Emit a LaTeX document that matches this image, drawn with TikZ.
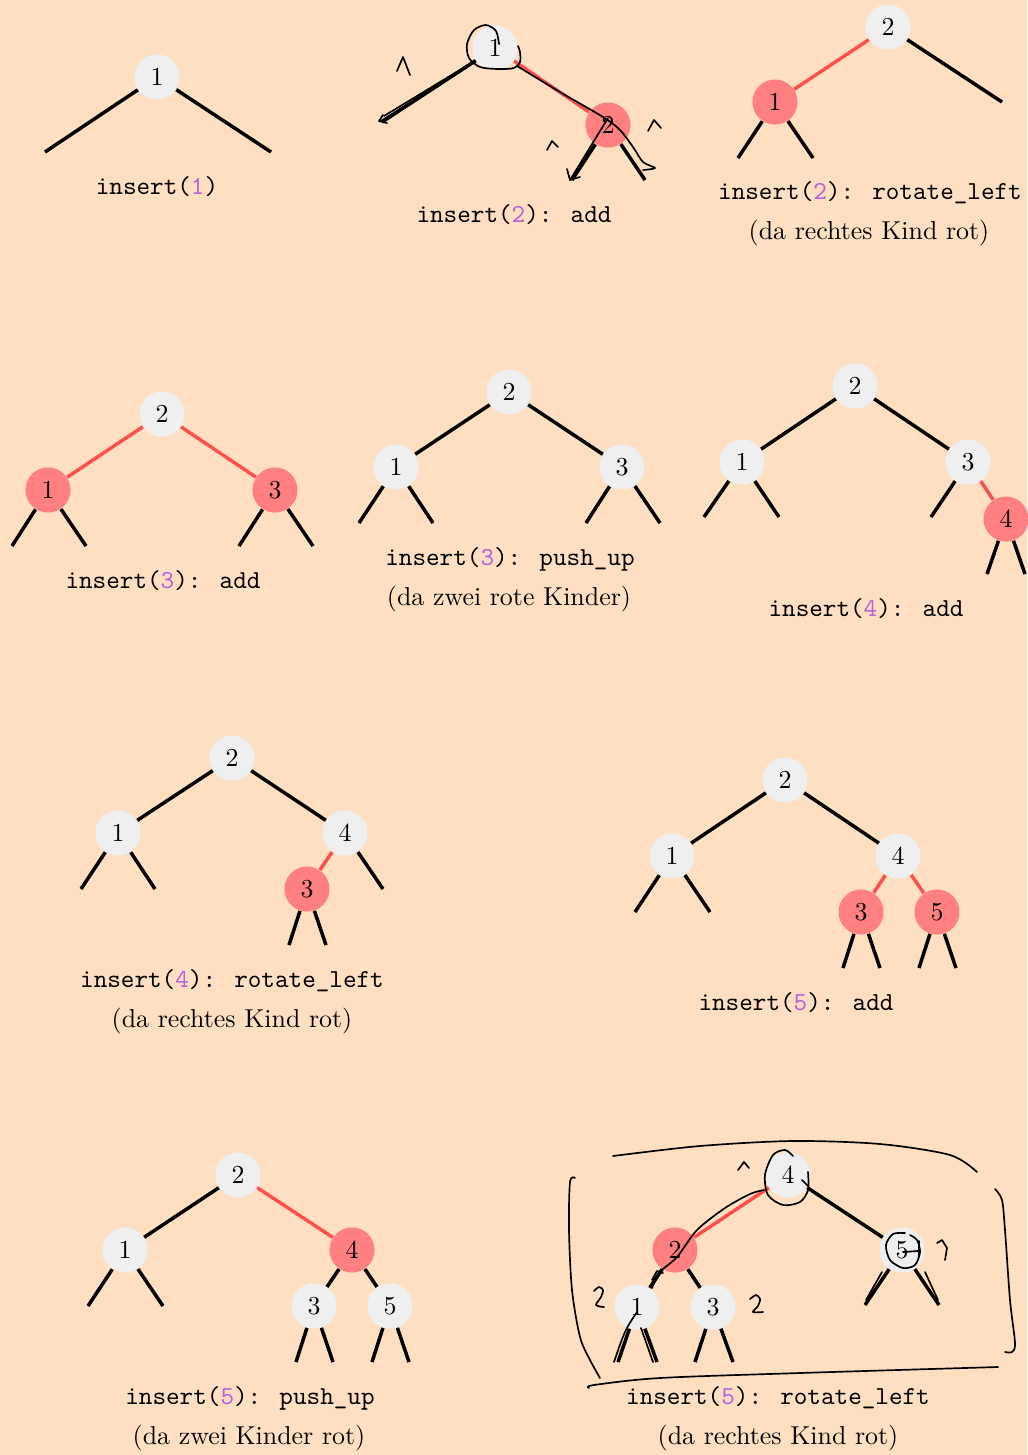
\documentclass[tikz,border=0pt]{standalone}
\usetikzlibrary{arrows.meta}
\definecolor{bg}{HTML}{FFDFC2}
\definecolor{nodegray}{HTML}{EFEFEF}
\definecolor{nodered}{HTML}{FF8080}
\definecolor{edgered}{HTML}{FF4D4D}
\definecolor{purp}{HTML}{B65FD8}
\tikzset{
 bn/.style={circle, fill=nodegray, minimum size=17.4pt, inner sep=0pt},
 rn/.style={bn, fill=nodered},
 edge/.style={line width=1.35pt, black},
 redge/.style={line width=1.3pt, edgered},
 lbl/.style={inner sep=0pt, font=\ttfamily},
 note/.style={inner sep=0pt},
 scrib/.style={line width=0.65pt, black, line cap=round, line join=round},
}
\newcommand{\ins}[2]{insert(\textcolor{purp}{#1})#2}
\begin{document}
\begin{tikzpicture}[x=0.3861pt, y=-0.3861pt]
\fill[bg] (0,0) rectangle (1027,1455);
\useasboundingbox (0,0) rectangle (1027,1455);

% ---------- Tree 1
\node[bn] (a1) at (157,77) {1};
\coordinate (a1l) at (45,152); \coordinate (a1r) at (271,152);
\draw[edge] (a1) -- (a1l); \draw[edge] (a1) -- (a1r);
\node[lbl] (la) at (157,187) {\ins{1}{}};

% ---------- Tree 2
\node[bn] (b1) at (495,48) {1};
\node[rn] (b2) at (608,125) {2};
\coordinate (b1l) at (382,122);
\coordinate (b2l) at (572,180); \coordinate (b2r) at (645,180);
\draw[edge] (b1) -- (b1l);
\draw[redge] (b1) -- (b2);
\draw[edge] (b2) -- (b2l); \draw[edge] (b2) -- (b2r);
\node[lbl] (lb) at (514,215) {\ins{2}{: add}};
% scribbles
\draw[scrib] plot[smooth] coordinates {(499,44) (496,31) (486,25) (474,30) (467,44) (469,58) (480,67) (498,69) (514,68) (520,62) (520,52) (518,46)};
\draw[scrib] (473,62) -- (384,116);
\draw[scrib] (468,66) -- (381,121);
\draw[scrib] (383,115) -- (379,121) -- (387,123);
\draw[scrib] (397,71) -- (403,57) -- (410,75);
\draw[scrib] plot[smooth] coordinates {(517,66) (560,92) (603,117) (620,130) (633,147) (643,162) (655,168) (643,170)};
\draw[scrib] (608,118) -- (570,180);
\draw[scrib] (567,169) -- (570,180) -- (580,177);
\draw[scrib] (547,150) -- (552,141) -- (558,147);
\draw[scrib] (648,131) -- (654,120) -- (661,128);

% ---------- Tree 3
\node[bn] (c2) at (888,27) {2};
\node[rn] (c1) at (775,102) {1};
\coordinate (c2r) at (1002,102);
\coordinate (c1l) at (738,158); \coordinate (c1r) at (813,158);
\draw[redge] (c2) -- (c1);
\draw[edge] (c2) -- (c2r);
\draw[edge] (c1) -- (c1l); \draw[edge] (c1) -- (c1r);
\node[lbl] (lc) at (870,193) {\ins{2}{: rotate\_left}};
\node[note] (lc2) at (869,233) {(da rechtes Kind rot)};

% ---------- Tree 4
\node[bn] (d2) at (162,414) {2};
\node[rn] (d1) at (48,490) {1};
\node[rn] (d3) at (275,490) {3};
\draw[redge] (d2) -- (d1); \draw[redge] (d2) -- (d3);
\coordinate (d1l) at (12,546); \coordinate (d1r) at (86,546);
\coordinate (d3l) at (239,546); \coordinate (d3r) at (313,546);
\draw[edge] (d1) -- (d1l); \draw[edge] (d1) -- (d1r);
\draw[edge] (d3) -- (d3l); \draw[edge] (d3) -- (d3r);
\node[lbl] (ld) at (163,581) {\ins{3}{: add}};

% ---------- Tree 5
\node[bn] (e2) at (509,392) {2};
\node[bn] (e1) at (396,467) {1};
\node[bn] (e3) at (622,467) {3};
\draw[edge] (e2) -- (e1); \draw[edge] (e2) -- (e3);
\coordinate (e1l) at (359,523); \coordinate (e1r) at (433,523);
\coordinate (e3l) at (586,523); \coordinate (e3r) at (660,523);
\draw[edge] (e1) -- (e1l); \draw[edge] (e1) -- (e1r);
\draw[edge] (e3) -- (e3l); \draw[edge] (e3) -- (e3r);
\node[lbl] (le) at (510,559) {\ins{3}{: push\_up}};
\node[note] (le2) at (509,599) {(da zwei rote Kinder)};

% ---------- Tree 6
\node[bn] (f2) at (855,386) {2};
\node[bn] (f1) at (742,462) {1};
\node[bn] (f3) at (968,462) {3};
\node[rn] (f4) at (1006,519) {4};
\draw[edge] (f2) -- (f1); \draw[edge] (f2) -- (f3);
\coordinate (f1l) at (704,517); \coordinate (f1r) at (779,517);
\coordinate (f3l) at (931,517);
\coordinate (f4l) at (987,574); \coordinate (f4r) at (1025,574);
\draw[edge] (f1) -- (f1l); \draw[edge] (f1) -- (f1r);
\draw[edge] (f3) -- (f3l); \draw[redge] (f3) -- (f4);
\draw[edge] (f4) -- (f4l); \draw[edge] (f4) -- (f4r);
\node[lbl] (lf) at (866,609) {\ins{4}{: add}};

% ---------- Tree 7
\node[bn] (g2) at (232,758) {2};
\node[bn] (g1) at (118,833) {1};
\node[bn] (g4) at (345,833) {4};
\node[rn] (g3) at (307,889) {3};
\draw[edge] (g2) -- (g1); \draw[edge] (g2) -- (g4);
\coordinate (g1l) at (81,889); \coordinate (g1r) at (155,889);
\coordinate (g4r) at (383,889);
\coordinate (g3l) at (289,945); \coordinate (g3r) at (326,945);
\draw[edge] (g1) -- (g1l); \draw[edge] (g1) -- (g1r);
\draw[redge] (g4) -- (g3); \draw[edge] (g4) -- (g4r);
\draw[edge] (g3) -- (g3l); \draw[edge] (g3) -- (g3r);
\node[lbl] (lg) at (232,981) {\ins{4}{: rotate\_left}};
\node[note] (lg2) at (232,1021) {(da rechtes Kind rot)};

% ---------- Tree 8
\node[bn] (h2) at (785,780) {2};
\node[bn] (h1) at (672,856) {1};
\node[bn] (h4) at (898,856) {4};
\node[rn] (h3) at (861,912) {3};
\node[rn] (h5) at (937,912) {5};
\draw[edge] (h2) -- (h1); \draw[edge] (h2) -- (h4);
\draw[redge] (h4) -- (h3); \draw[redge] (h4) -- (h5);
\coordinate (h1l) at (635,912); \coordinate (h1r) at (710,912);
\coordinate (h3l) at (843,968); \coordinate (h3r) at (880,968);
\coordinate (h5l) at (919,968); \coordinate (h5r) at (956,968);
\draw[edge] (h1) -- (h1l); \draw[edge] (h1) -- (h1r);
\draw[edge] (h3) -- (h3l); \draw[edge] (h3) -- (h3r);
\draw[edge] (h5) -- (h5l); \draw[edge] (h5) -- (h5r);
\node[lbl] (lh) at (796,1003) {\ins{5}{: add}};

% ---------- Tree 9
\node[bn] (i2) at (238,1175) {2};
\node[bn] (i1) at (125,1250) {1};
\node[rn] (i4) at (352,1250) {4};
\node[bn] (i3) at (314,1306) {3};
\node[bn] (i5) at (390,1306) {5};
\draw[edge] (i2) -- (i1); \draw[redge] (i2) -- (i4);
\draw[edge] (i4) -- (i3); \draw[edge] (i4) -- (i5);
\coordinate (i1l) at (88,1306); \coordinate (i1r) at (163,1306);
\coordinate (i3l) at (296,1362); \coordinate (i3r) at (333,1362);
\coordinate (i5l) at (372,1362); \coordinate (i5r) at (409,1362);
\draw[edge] (i1) -- (i1l); \draw[edge] (i1) -- (i1r);
\draw[edge] (i3) -- (i3l); \draw[edge] (i3) -- (i3r);
\draw[edge] (i5) -- (i5l); \draw[edge] (i5) -- (i5r);
\node[lbl] (li) at (250,1398) {\ins{5}{: push\_up}};
\node[note] (li2) at (249,1438) {(da zwei Kinder rot)};

% ---------- Tree 10
\node[bn] (j4) at (788,1175) {4};
\node[rn] (j2) at (675,1250) {2};
\node[bn] (j5) at (902,1250) {5};
\node[bn] (j1) at (637,1307) {1};
\node[bn] (j3) at (713,1307) {3};
\draw[redge] (j4) -- (j2); \draw[edge] (j4) -- (j5);
\draw[edge] (j2) -- (j1); \draw[edge] (j2) -- (j3);
\coordinate (j5l) at (865,1305); \coordinate (j5r) at (939,1305);
\coordinate (j1l) at (618,1362); \coordinate (j1r) at (657,1362);
\coordinate (j3l) at (695,1362); \coordinate (j3r) at (733,1362);
\draw[edge] (j5) -- (j5l); \draw[edge] (j5) -- (j5r);
\draw[edge] (j1) -- (j1l); \draw[edge] (j1) -- (j1r);
\draw[edge] (j3) -- (j3l); \draw[edge] (j3) -- (j3r);
\node[lbl] (lj) at (778,1398) {\ins{5}{: rotate\_left}};
\node[note] (lj2) at (778,1438) {(da rechtes Kind rot)};
% scribbles
\draw[scrib] plot[smooth] coordinates {(613,1156) (700,1146) (793,1141) (880,1144) (950,1155) (977,1172)};
\draw[scrib] plot[smooth] coordinates {(575,1178) (570,1182) (569,1230) (572,1290) (580,1337) (590,1360) (600,1378)};
\draw[scrib] plot[smooth] coordinates {(589,1388) (594,1385) (660,1378) (800,1373) (998,1367)};
\draw[scrib] plot[smooth] coordinates {(995,1189) (1002,1200) (1005,1230) (1010,1300) (1015,1343) (1012,1352) (1005,1352)};
\draw[scrib] plot[smooth] coordinates {(793,1156) (785,1150) (773,1155) (765,1175) (768,1195) (783,1205) (800,1202) (808,1190) (808,1172)};
\draw[scrib] (802,1180) -- (808,1186);
\draw[scrib] plot[smooth] coordinates {(764,1190) (750,1194) (725,1208) (697,1230) (677,1257) (660,1272) (652,1288)};
\draw[scrib] (652,1280) -- (657,1271) -- (663,1273);
\draw[scrib] (738,1170) -- (744,1162) -- (749,1168);
\draw[scrib] plot[smooth] coordinates {(905,1233) (893,1234) (886,1245) (890,1260) (903,1268) (915,1265) (920,1252) (917,1240) (910,1235)};
\draw[scrib] (903,1252) -- (918,1251);
\draw[scrib] (919,1241) -- (919,1256);
\draw[scrib] (937,1243) -- (942,1240) -- (947,1248) -- (945,1260);
\draw[scrib] plot[smooth] coordinates {(594,1291) (599,1287) (603,1290) (601,1297) (596,1305) (604,1307)};
\draw[scrib] plot[smooth] coordinates {(750,1299) (756,1295) (760,1299) (758,1306) (753,1312) (763,1312)};
\draw[scrib] (637,1312) .. controls (625,1330) .. (614,1362);
\draw[scrib] (641,1328) -- (653,1362);
\draw[scrib] (882,1272) -- (866,1300);
\draw[scrib] (925,1272) -- (938,1300);
\end{tikzpicture}
\end{document}
